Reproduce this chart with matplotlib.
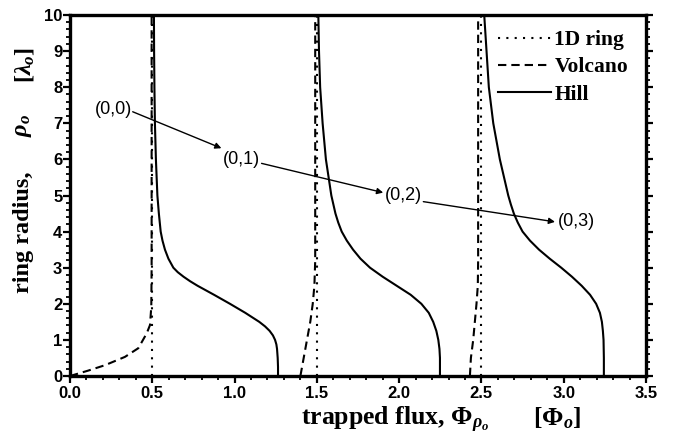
import numpy as np
import matplotlib
matplotlib.use("Agg")
import matplotlib.pyplot as plt
from matplotlib.ticker import MultipleLocator, FormatStrFormatter

# 1D ring: vertical lines at half-integer flux
ring_x = [0.5, 1.5, 2.5]
ring_y = [0.0, 10.0]

# Volcano branches
volc1_x = [0.0, 0.111, 0.213, 0.334, 0.415, 0.466, 0.486, 0.494, 0.496, 0.496]
volc1_y = [0.0, 0.15, 0.30, 0.53, 0.77, 1.18, 1.41, 1.92, 3.0, 10.0]
volc2_x = [1.40, 1.42, 1.44, 1.46, 1.475, 1.485, 1.49, 1.49]
volc2_y = [0.0, 0.5, 1.0, 1.5, 2.0, 2.5, 3.2, 10.0]
volc3_x = [2.43, 2.436, 2.45, 2.46, 2.47, 2.478, 2.48, 2.48]
volc3_y = [0.0, 0.5, 1.0, 1.5, 2.0, 2.5, 3.2, 10.0]

# Hill branches
hill1_y = [10, 9, 8, 7, 6, 5, 4.5, 4, 3.75, 3.5, 3.25, 3.0, 2.875, 2.75, 2.625, 2.5, 2.25, 2.0,
           1.75, 1.5, 1.375, 1.25, 1.125, 1.0, 0.875, 0.75, 0.5, 0.25, 0]
hill1_x = [0.510, 0.511, 0.513, 0.516, 0.522, 0.531, 0.540, 0.551, 0.562, 0.577, 0.598, 0.628,
           0.655, 0.69, 0.73, 0.775, 0.875, 0.972, 1.065, 1.150, 1.185, 1.213, 1.233, 1.246,
           1.254, 1.258, 1.262, 1.264, 1.264]
hill2_y = [10, 9, 8, 7, 6, 5, 4.5, 4.25, 4, 3.75, 3.5, 3.25, 3.0, 2.75, 2.5, 2.25, 2.0, 1.75, 1.5,
           1.25, 1.0, 0.75, 0.5, 0]
hill2_x = [1.509, 1.513, 1.52, 1.535, 1.555, 1.588, 1.613, 1.630, 1.651, 1.682, 1.72, 1.765, 1.823,
           1.90, 1.985, 2.07, 2.135, 2.18, 2.207, 2.226, 2.238, 2.245, 2.248, 2.248]
hill3_y = [10, 9, 8, 7, 6, 5, 4.75, 4.5, 4.25, 4, 3.75, 3.5, 3.25, 3.0, 2.75, 2.5, 2.25, 2.0,
           1.75, 1.5, 1.25, 1.0, 0.5, 0]
hill3_x = [2.517, 2.531, 2.545, 2.572, 2.612, 2.663, 2.679, 2.697, 2.721, 2.75, 2.795, 2.85, 2.915,
           2.985, 3.05, 3.109, 3.16, 3.197, 3.22, 3.232, 3.238, 3.242, 3.244, 3.244]

# Mode labels and arrows between them
mode_labels = ['(0,0)', '(0,1)', '(0,2)', '(0,3)']
mode_x = [0.263, 1.043, 2.025, 3.078]
mode_y = [7.37, 6.0, 5.0, 4.27]
arrow_x0 = [0.381, 1.164, 2.147]
arrow_y0 = [7.32, 5.89, 4.83]
arrow_x1 = [0.92, 1.903, 2.947]
arrow_y1 = [6.31, 5.08, 4.27]

plt.rcParams['mathtext.fontset'] = 'custom'
plt.rcParams['mathtext.rm'] = 'Liberation Serif:bold'
plt.rcParams['mathtext.it'] = 'Liberation Serif:italic:bold'
plt.rcParams['mathtext.bf'] = 'Liberation Serif:bold'

fig = plt.figure(figsize=(6.81, 4.41), dpi=100)
ax = fig.add_axes([70/681, 65/441, 576/681, 361/441])

lw = 1.5
dot = (0, (1, 3))
dash = (0, (4, 2.4))

for i, xr in enumerate(ring_x):
    ax.plot([xr, xr], ring_y, color='black', lw=lw, linestyle=dot,
            label='1D ring' if i == 0 else None)
for i, (vx, vy) in enumerate([(volc1_x, volc1_y), (volc2_x, volc2_y), (volc3_x, volc3_y)]):
    ax.plot(vx, vy, color='black', lw=lw, linestyle=dash,
            label='Volcano' if i == 0 else None)
for i, (hx, hy) in enumerate([(hill1_x, hill1_y), (hill2_x, hill2_y), (hill3_x, hill3_y)]):
    ax.plot(hx, hy, color='black', lw=lw, linestyle='-', solid_joinstyle='round',
            label='Hill' if i == 0 else None)

for i in range(len(arrow_x0)):
    ax.annotate('', xy=(arrow_x1[i], arrow_y1[i]), xytext=(arrow_x0[i], arrow_y0[i]),
                arrowprops=dict(arrowstyle='-|>', color='black', lw=1.0,
                                mutation_scale=9, shrinkA=0, shrinkB=0))
for lab, mx, my in zip(mode_labels, mode_x, mode_y):
    ax.text(mx, my, lab, ha='center', va='center', fontsize=13,
            family='Liberation Sans')

ax.set_xlim(0, 3.5)
ax.set_ylim(0, 10)
ax.xaxis.set_major_locator(MultipleLocator(0.5))
ax.xaxis.set_minor_locator(MultipleLocator(0.1))
ax.xaxis.set_major_formatter(FormatStrFormatter('%.1f'))
ax.yaxis.set_major_locator(MultipleLocator(1))
ax.yaxis.set_minor_locator(MultipleLocator(0.2))

for sp in ax.spines.values():
    sp.set_linewidth(2.4)
ax.tick_params(which='both', direction='out', top=False, right=True, labelright=False)
ax.tick_params(which='major', length=5, width=1.6)
ax.tick_params(which='minor', length=3, width=1.3)
ax.tick_params(axis='y', which='major', pad=0.5)
ax.tick_params(axis='x', which='major', pad=2)
for t in ax.get_xticklabels() + ax.get_yticklabels():
    t.set_family('Liberation Sans')
    t.set_fontweight('bold')
    t.set_fontsize(12)

leg = ax.legend(loc='upper right', bbox_to_anchor=(0.969, 0.958), frameon=False,
                borderpad=0, borderaxespad=0, handlelength=2.46, handletextpad=0.14,
                labelspacing=0.33, prop={'family': 'Liberation Serif', 'weight': 'bold', 'size': 15.5})

# axis labels
xlab = dict(family='Liberation Serif', fontweight='bold', fontsize=18.5)
ylab = dict(family='Liberation Serif', fontweight='bold', fontsize=17.5)
fig.text(301/681, 1 - 425/441, r'trapped flux, Φ$_{\rho_o}$', ha='left', va='baseline', **xlab)
fig.text(533/681, 1 - 425/441, r'[Φ$_o$]', ha='left', va='baseline', **xlab)
fig.text(24/681, 1 - 293/441, 'ring radius,', rotation=90, ha='center', va='bottom', **ylab)
fig.text(24/681, 1 - 137/441, r'$\rho_o$', rotation=90, ha='center', va='bottom', **ylab)
fig.text(24/681, 1 - 83/441, r'[$\lambda_o$]', rotation=90, ha='center', va='bottom', **ylab)

fig.savefig('out.png', dpi=100)
